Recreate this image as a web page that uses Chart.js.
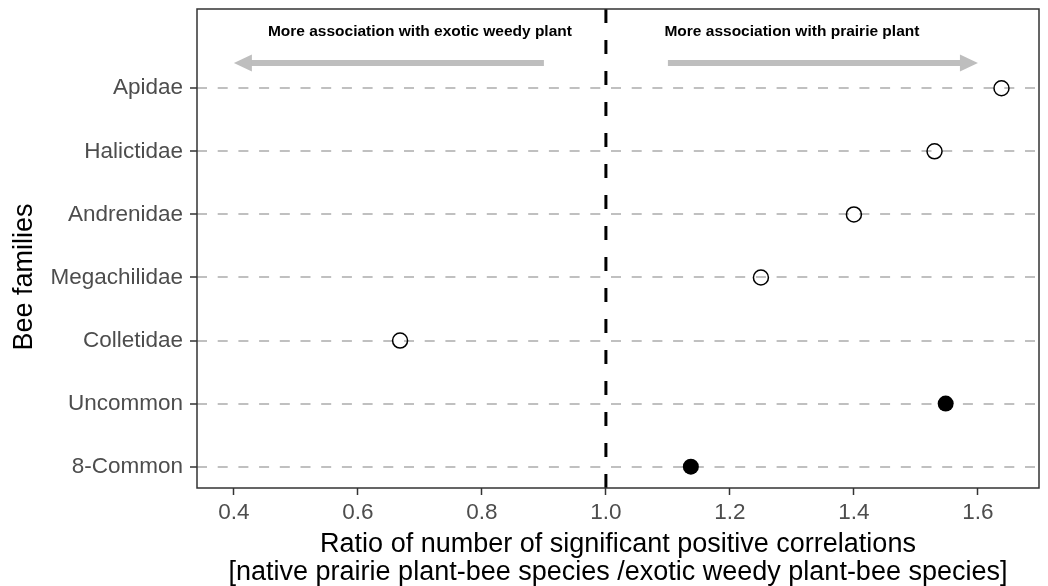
<!DOCTYPE html>
<html>
<head>
<meta charset="utf-8">
<script src="https://cdn.jsdelivr.net/npm/chart.js@4/dist/chart.umd.min.js"></script>
<style>
  body { margin: 0; background: #fff; }
  #wrap { width: 1048px; height: 586px; }
</style>
</head>
<body>
<div id="wrap"><canvas id="beeChart" width="1048" height="586"></canvas></div>
<script>
// Bee families, bottom to top
const families = ['8-Common', 'Uncommon', 'Colletidae', 'Megachilidae', 'Andrenidae', 'Halictidae', 'Apidae'];
// Ratio native prairie / exotic weedy, same order as families
const ratios = [1.137, 1.548, 0.668, 1.25, 1.40, 1.53, 1.638];
// Groups drawn as filled dots
const filledGroups = ['8-Common', 'Uncommon'];
const xTicks = [0.4, 0.6, 0.8, 1.0, 1.2, 1.4, 1.6];
const arrowLabels = ['More association with exotic weedy plant', 'More association with prairie plant'];

const FONT = "'Liberation Sans', Arial, sans-serif";

const openPts = [];
const filledPts = [];
families.forEach((f, i) => {
    const p = { x: ratios[i], y: i + 1 };
    if (filledGroups.includes(f)) filledPts.push(p); else openPts.push(p);
});

// Reference line, arrows, labels, frame and y title
const extras = {
    id: 'extras',
    beforeDatasetsDraw(chart) {
        const { ctx, chartArea: a, scales: { x, y } } = chart;
        ctx.save();

        // dashed line at ratio 1
        ctx.strokeStyle = '#000';
        ctx.lineWidth = 3;
        ctx.setLineDash([14, 17]);
        ctx.beginPath();
        ctx.moveTo(x.getPixelForValue(1), a.top);
        ctx.lineTo(x.getPixelForValue(1), a.bottom);
        ctx.stroke();
        ctx.setLineDash([]);

        // arrows
        const ay = y.getPixelForValue(7.4);
        const drawArrow = (from, to) => {
            const x0 = x.getPixelForValue(from), x1 = x.getPixelForValue(to);
            const dir = Math.sign(x1 - x0);
            ctx.strokeStyle = '#bebebe';
            ctx.fillStyle = '#bebebe';
            ctx.lineWidth = 6;
            ctx.beginPath();
            ctx.moveTo(x0, ay);
            ctx.lineTo(x1 - dir * 14, ay);
            ctx.stroke();
            ctx.beginPath();
            ctx.moveTo(x1, ay);
            ctx.lineTo(x1 - dir * 18, ay - 8.5);
            ctx.lineTo(x1 - dir * 18, ay + 8.5);
            ctx.closePath();
            ctx.fill();
        };
        drawArrow(0.9, 0.4);
        drawArrow(1.1, 1.6);

        ctx.fillStyle = '#000';
        ctx.font = 'bold 15.5px ' + FONT;
        ctx.textAlign = 'center';
        ctx.textBaseline = 'middle';
        const ty = y.getPixelForValue(7.89);
        ctx.fillText(arrowLabels[0], x.getPixelForValue(0.7), ty);
        ctx.fillText(arrowLabels[1], x.getPixelForValue(1.3), ty);
        ctx.restore();
    },
    afterDraw(chart) {
        const { ctx, chartArea: a } = chart;
        ctx.save();
        ctx.strokeStyle = '#333';
        ctx.lineWidth = 1.5;
        ctx.strokeRect(a.left, a.top, a.right - a.left, a.bottom - a.top);

        ctx.fillStyle = '#000';
        ctx.font = '27px ' + FONT;
        ctx.textAlign = 'center';
        ctx.textBaseline = 'middle';
        ctx.translate(25, 277);
        ctx.rotate(-Math.PI / 2);
        ctx.fillText('Bee families', 0, 0);
        ctx.restore();
    }
};

new Chart(document.getElementById('beeChart'), {
    type: 'scatter',
    data: {
        datasets: [{
            data: openPts,
            pointRadius: 7.5,
            pointBorderWidth: 1.5,
            pointBorderColor: '#000',
            pointBackgroundColor: 'rgba(0,0,0,0)'
        }, {
            data: filledPts,
            pointRadius: 8,
            pointBorderWidth: 0,
            pointBackgroundColor: '#000',
            pointBorderColor: '#000'
        }]
    },
    options: {
        responsive: false,
        animation: false,
        layout: { padding: { top: 9, right: 6, left: 0, bottom: 0 } },
        plugins: { legend: { display: false }, tooltip: { enabled: false } },
        scales: {
            x: {
                type: 'linear',
                min: 0.3405,
                max: 1.6985,
                afterBuildTicks: s => { s.ticks = xTicks.map(v => ({ value: v })); },
                afterFit: s => { s.height = 98; s.paddingLeft = 0; s.paddingRight = 0; },
                ticks: {
                    callback: v => v.toFixed(1),
                    color: '#4d4d4d',
                    font: { family: FONT, size: 22.5 },
                    padding: 4,
                    maxRotation: 0
                },
                grid: {
                    drawOnChartArea: false,
                    tickLength: 7,
                    tickColor: '#333',
                    tickWidth: 1.5,
                    tickBorderDash: []
                },
                border: { display: false },
                title: {
                    display: true,
                    text: ['Ratio of number of significant positive correlations',
                        '[native prairie plant-bee species /exotic weedy plant-bee species]'],
                    color: '#000',
                    font: { family: FONT, size: 27, lineHeight: '28px' },
                    padding: { top: 0, bottom: -1 }
                }
            },
            y: {
                type: 'linear',
                min: 0.662,
                max: 8.257,
                afterBuildTicks: s => { s.ticks = families.map((_, i) => ({ value: i + 1 })); },
                afterFit: s => { s.width = 197; s.paddingTop = 0; s.paddingBottom = 0; },
                ticks: {
                    callback: v => families[v - 1],
                    color: '#4d4d4d',
                    font: { family: FONT, size: 22.5 },
                    padding: 7
                },
                grid: {
                    color: '#c0c0c0',
                    lineWidth: 2,
                    tickLength: 7,
                    tickColor: '#333',
                    tickWidth: 1.5,
                    tickBorderDash: []
                },
                border: { display: false, dash: [10, 10.7] }
            }
        }
    },
    plugins: [extras]
});
</script>
</body>
</html>
